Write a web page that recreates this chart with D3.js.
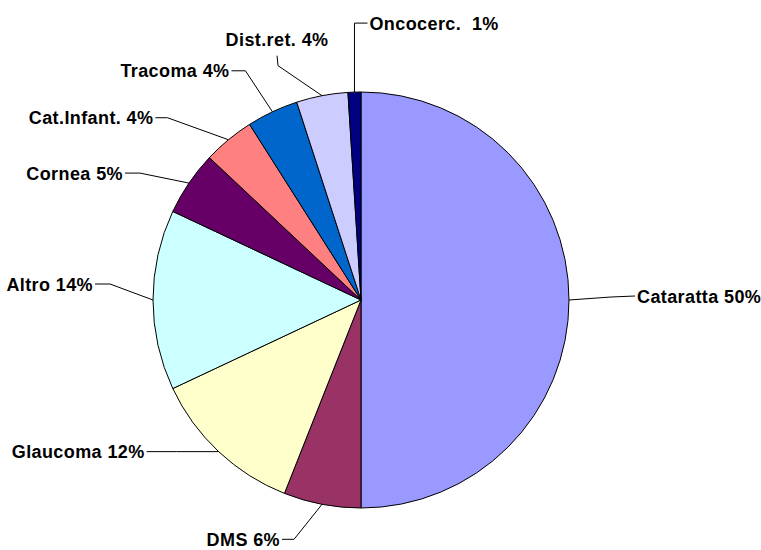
<!DOCTYPE html>
<html>
<head>
<meta charset="utf-8">
<script src="https://cdn.jsdelivr.net/npm/d3@7"></script>
<style>
  body { margin: 0; background: #ffffff; }
</style>
</head>
<body>
<div id="plot"></div>
<script>
// slices, clockwise from 12 o'clock
let categories = ['Cataratta', 'DMS', 'Glaucoma', 'Altro', 'Cornea', 'Cat.Infant.', 'Tracoma', 'Dist.ret.', 'Oncocerc. '];
let values = [50, 6, 12, 14, 5, 4, 4, 4, 1];
let colors = ['#9999ff', '#993366', '#ffffcc', '#ccffff', '#660066', '#ff8080', '#0066cc', '#ccccff', '#000080'];

// hand placed labels (offsets from the slice mid point on the rim)
let labelLayout = [
  { elbow: [42, -3],  end: [66, -4],   anchor: 'start' },
  { elbow: [-28, 35], end: [-40, 35],  anchor: 'end' },
  { elbow: [-42, 0],  end: [-72, 0],   anchor: 'end' },
  { elbow: [-43, -16], end: [-58, -16], anchor: 'end' },
  { elbow: [-49, -10], end: [-64, -10], anchor: 'end' },
  { elbow: [-61, -22], end: [-73, -22], anchor: 'end' },
  { elbow: [-27, -41], end: [-41, -41], anchor: 'end' },
  { elbow: [-44, -30], end: [-45, -40], anchor: 'middle' },
  { elbow: [0, -69],  end: [13, -69],  anchor: 'start' }
];

let width = 761, height = 550;
let cx = 361, cy = 300, radius = 208;

let data = categories.map((c, i) => ({ name: c, value: values[i], color: colors[i], layout: labelLayout[i] }));

let svg = d3.select('#plot')
  .append('svg')
  .attr('width', width)
  .attr('height', height)
  .style('background', '#ffffff');

let pie = d3.pie()
  .sort(null)
  .value(d => d.value);

let arc = d3.arc()
  .innerRadius(0)
  .outerRadius(radius);

let rim = d3.arc()
  .innerRadius(radius)
  .outerRadius(radius);

let total = d3.sum(values);

let g = svg.append('g')
  .attr('transform', `translate(${cx},${cy})`);

let arcs = pie(data);

g.selectAll('path.slice')
  .data(arcs)
  .enter()
  .append('path')
  .attr('class', 'slice')
  .attr('d', arc)
  .attr('fill', d => d.data.color)
  .attr('stroke', '#000')
  .attr('stroke-width', 1);

// leader lines
g.selectAll('polyline')
  .data(arcs)
  .enter()
  .append('polyline')
  .attr('points', d => {
    let p = rim.centroid(d);
    let L = d.data.layout;
    return [p, [p[0] + L.elbow[0], p[1] + L.elbow[1]], [p[0] + L.end[0], p[1] + L.end[1]]]
      .map(q => q.join(',')).join(' ');
  })
  .attr('fill', 'none')
  .attr('stroke', '#000')
  .attr('stroke-width', 1);

g.selectAll('text')
  .data(arcs)
  .enter()
  .append('text')
  .attr('x', d => {
    let p = rim.centroid(d), L = d.data.layout;
    let gap = L.anchor == 'start' ? 2 : (L.anchor == 'end' ? -2 : 0);
    return p[0] + L.end[0] + gap;
  })
  .attr('y', d => {
    let p = rim.centroid(d), L = d.data.layout;
    return L.anchor == 'middle' ? p[1] + L.end[1] - 10 : p[1] + L.end[1] + 6.5;
  })
  .attr('text-anchor', d => d.data.layout.anchor)
  .style('font-family', '"Liberation Sans", Arial, sans-serif')
  .style('font-weight', 'bold')
  .style('font-size', '18px')
  .style('letter-spacing', '0.4px')
  .style('white-space', 'pre')
  .attr('fill', '#000')
  .text(d => d.data.name + ' ' + Math.round(d.data.value / total * 100) + '%');
</script>
</body>
</html>
